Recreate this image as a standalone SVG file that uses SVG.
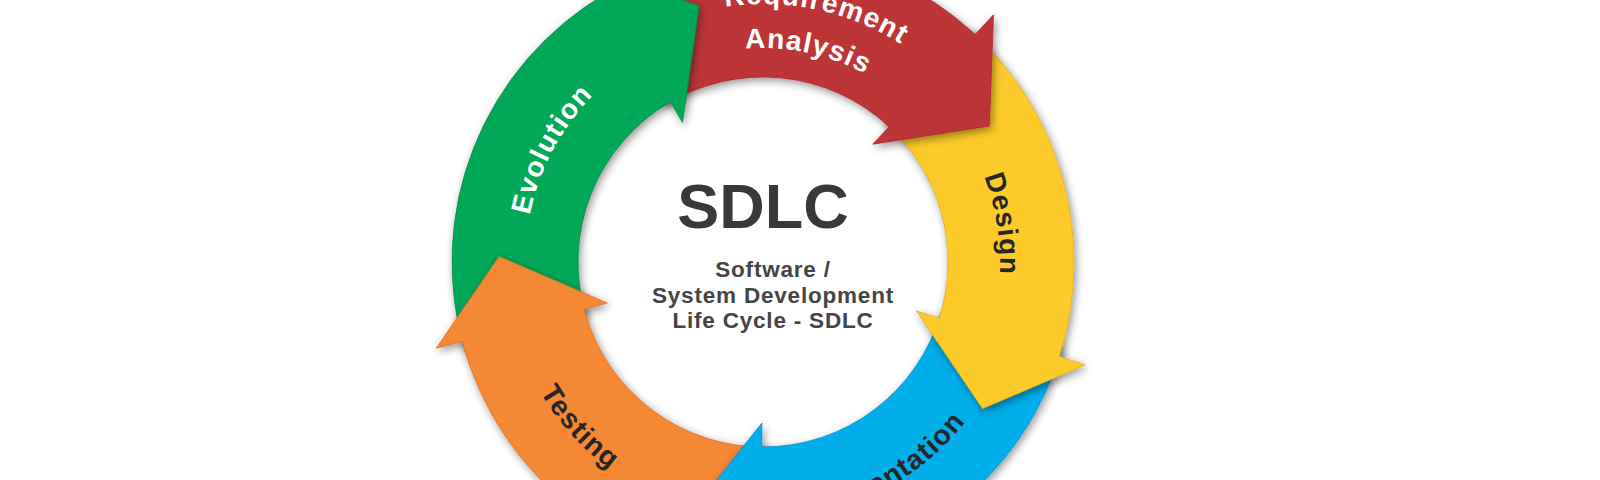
<svg xmlns="http://www.w3.org/2000/svg" width="1600" height="480" viewBox="0 0 1600 480">
<defs>
<style>
.lbl{font-family:"Liberation Sans",Arial,Helvetica,sans-serif;font-weight:bold;font-size:28px;letter-spacing:1.2px}
.w{fill:#ffffff}
.d{fill:#262626}
.ctr{font-family:"Liberation Sans",Arial,Helvetica,sans-serif;font-weight:bold;text-anchor:middle}
.sub{font-size:22.5px;letter-spacing:0.8px;fill:#444444}
</style>
<filter id="sh" x="-20%" y="-20%" width="140%" height="140%">
<feDropShadow dx="2" dy="3" stdDeviation="4" flood-color="#000" flood-opacity="0.42"/>
</filter>
<clipPath id="cl"><rect x="0" y="-100" width="720" height="700"/></clipPath>
<clipPath id="cr"><rect x="720" y="-100" width="900" height="700"/></clipPath>
<path id="redShape" d="M598.2,-1.7 A311,311 0 0 1 975.1,34.5 L993.5,14.8 L989.3,126 L872.8,144.2 L889.2,126.7 A185,185 0 0 0 665,105.1 Z" fill="#BE3438" stroke="#A82A2E" stroke-width="0.8"/>
<path id="tpReq" d="M571.3,89.4 A258,258 0 0 1 1008.4,182.3"/>
<path id="tpAna" d="M604,118.8 A214,214 0 0 1 966.5,195.9"/>
<path id="tpDes" d="M847.9,40.7 A237,237 0 0 1 912.1,446.2"/>
<path id="tpEvo" d="M561.2,388.1 A238,238 0 0 1 754.7,24.1"/>
<path id="tpTes" d="M517.6,182.3 A258,258 0 0 0 816.6,514.3"/>
<path id="tpImp" d="M622.5,478.4 A258,258 0 0 0 1020.6,275.5"/>
</defs>
<rect x="0" y="0" width="1600" height="480" fill="#ffffff"/>

<g id="requirement-analysis-back" clip-path="url(#cl)">
<use href="#redShape" filter="url(#sh)"/>
</g>

<g id="evolution">
<path d="M465.3,351.9 A311,311 0 0 1 607.5,-7.3 L594,-30.7 L699.1,5.8 L682.5,122.6 L670.5,101.8 A185,185 0 0 0 585.9,315.5 Z" fill="#02A858" stroke="#018C49" stroke-width="0.8" filter="url(#sh)"/>
<text class="lbl w"><textPath href="#tpEvo" startOffset="50%" text-anchor="middle">Evolution</textPath></text>
</g>

<g id="testing">
<path d="M771.7,572.9 A311,311 0 0 1 462.3,341.4 L436.2,348.3 L499.1,256.5 L607.3,303.1 L584.1,309.2 A185,185 0 0 0 768.2,446.9 Z" fill="#F48835" stroke="#D9722A" stroke-width="0.8" filter="url(#sh)"/>
<text class="lbl d"><textPath href="#tpTes" startOffset="50%" text-anchor="middle">Testing</textPath></text>
</g>

<g id="implementation">
<path d="M1062.4,346.2 A311,311 0 0 1 760.8,573 L760.6,600 L688.5,515.3 L761.9,423 L761.7,447 A185,185 0 0 0 941.1,312.1 Z" fill="#06AEEA" stroke="#0494C9" stroke-width="0.8" filter="url(#sh)"/>
<text class="lbl d"><textPath href="#tpImp" startOffset="50%" text-anchor="middle">Implementation</textPath></text>
</g>

<g id="design">
<path d="M967,27.3 A311,311 0 0 1 1059.3,356.5 L1085,364.8 L982.6,408.5 L916.4,310.9 L939.2,318.2 A185,185 0 0 0 884.4,122.4 Z" fill="#FCCB2C" stroke="#E0AE1A" stroke-width="0.8" filter="url(#sh)"/>
<text class="lbl d"><textPath href="#tpDes" startOffset="50%" text-anchor="middle">Design</textPath></text>
</g>

<g id="requirement-analysis">
<g clip-path="url(#cr)">
<use href="#redShape" filter="url(#sh)"/>
</g>
<text class="lbl w"><textPath href="#tpReq" startOffset="50%" text-anchor="middle">Requirement</textPath></text>
<text class="lbl w"><textPath href="#tpAna" startOffset="50%" text-anchor="middle">Analysis</textPath></text>
</g>

<g id="center">
<text class="ctr" x="763" y="228" font-size="63" fill="#393939">SDLC</text>
<text class="ctr sub" x="773" y="277">Software /</text>
<text class="ctr sub" x="773" y="303">System Development</text>
<text class="ctr sub" x="773" y="328">Life Cycle - SDLC</text>
</g>
</svg>
